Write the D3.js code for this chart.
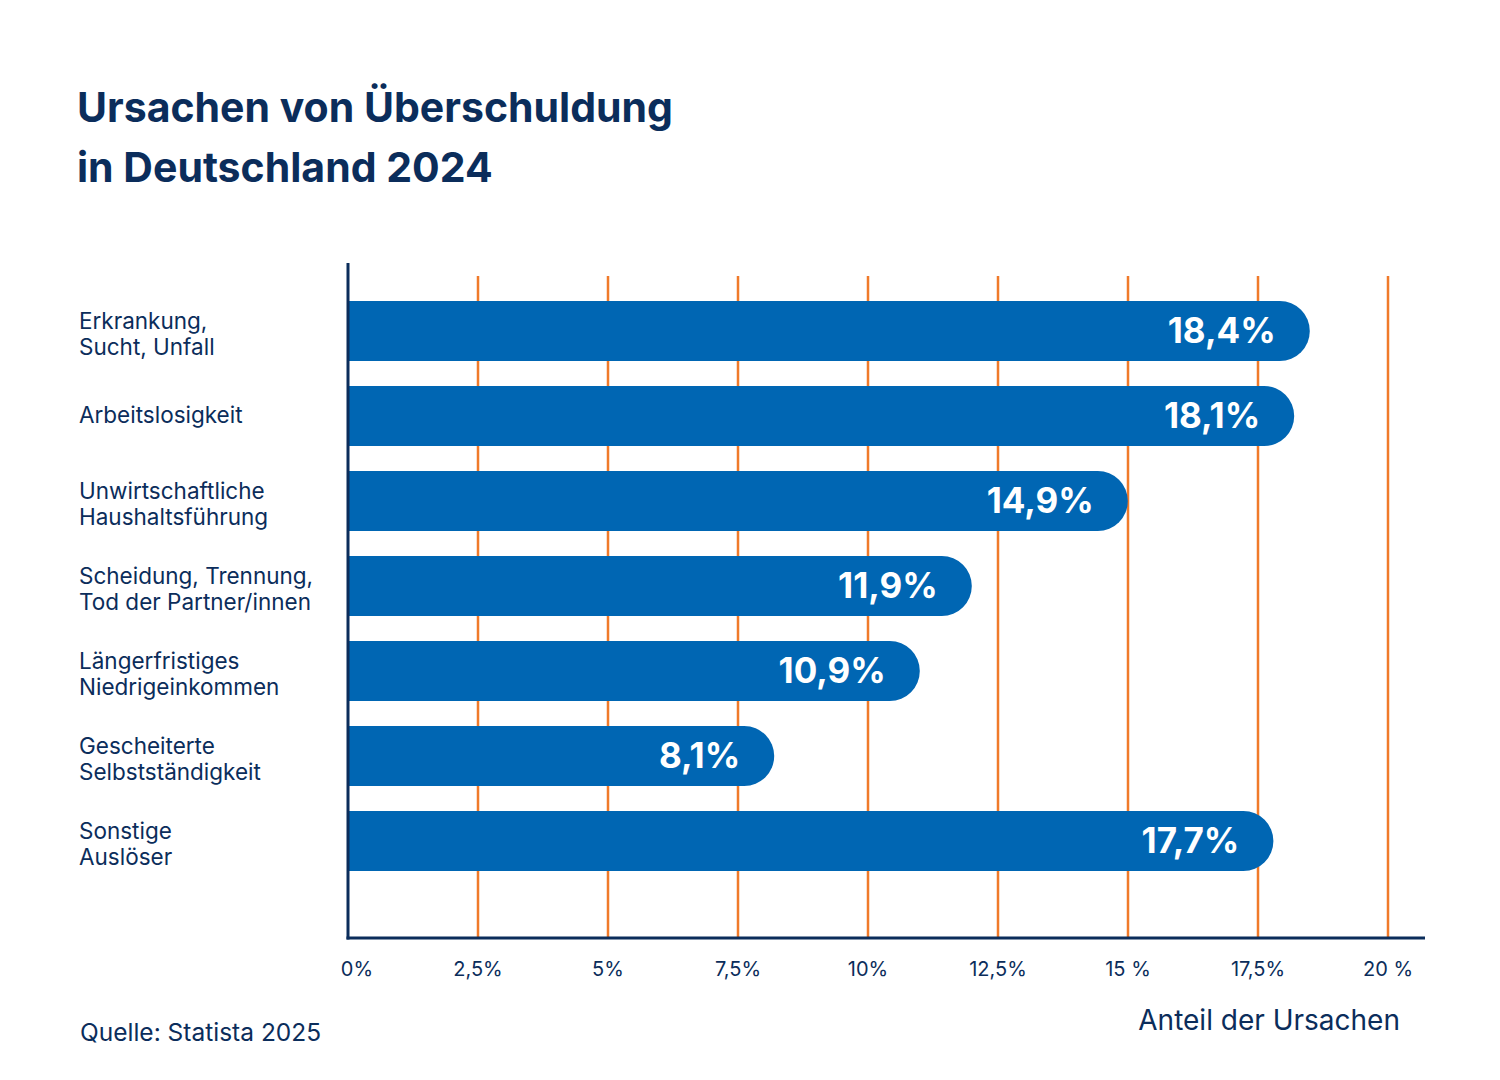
<!DOCTYPE html>
<html>
<head>
<meta charset="utf-8">
<script src="https://cdn.jsdelivr.net/npm/d3@7"></script>
<style>
  body { margin: 0; background: #fff; }
  svg { display: block; font-family: Inter, "Noto Sans", sans-serif; }
</style>
</head>
<body>
<div id="chart"></div>
<script>
// data
var categories = [
    ["Erkrankung,", "Sucht, Unfall"],
    ["Arbeitslosigkeit"],
    ["Unwirtschaftliche", "Haushaltsführung"],
    ["Scheidung, Trennung,", "Tod der Partner/innen"],
    ["Längerfristiges", "Niedrigeinkommen"],
    ["Gescheiterte", "Selbstständigkeit"],
    ["Sonstige", "Auslöser"]
];
var values = [18.4, 18.1, 14.9, 11.9, 10.9, 8.1, 17.7];
var valueLabels = ["18,4%", "18,1%", "14,9%", "11,9%", "10,9%", "8,1%", "17,7%"];
var tickValues = [0, 2.5, 5, 7.5, 10, 12.5, 15, 17.5, 20];
var tickLabels = ["0%", "2,5%", "5%", "7,5%", "10%", "12,5%", "15 %", "17,5%", "20 %"];

var width = 1500;
var height = 1080;
var navy = "#0b2d5b";
var blue = "#0066b3";
var orange = "#f07a2a";

var svg = d3.select("#chart").append("svg")
    .attr("width", width)
    .attr("height", height);

/*****************  Title **********************/
svg.append("text")
    .attr("x", 77).attr("y", 122)
    .attr("font-size", 41).attr("font-weight", 700)
    .attr("fill", navy)
    .text("Ursachen von Überschuldung");
svg.append("text")
    .attr("x", 77).attr("y", 182)
    .attr("font-size", 41).attr("font-weight", 700)
    .attr("fill", navy)
    .text("in Deutschland 2024");

/*****************  Scales **********************/
var x = d3.scaleLinear().domain([0, 20]).range([348, 1388]);
var y = d3.scaleBand()
    .domain(d3.range(categories.length))
    .range([276, 896])
    .padding(25 / 85);

/*****************  Grid lines **********************/
svg.selectAll(".grid")
    .data(tickValues.slice(1))
    .enter()
    .append("line")
    .attr("class", "grid")
    .attr("x1", function (d) { return x(d); })
    .attr("x2", function (d) { return x(d); })
    .attr("y1", 276)
    .attr("y2", 938)
    .attr("stroke", orange)
    .attr("stroke-width", 2.5);

/*****************  Bars **********************/
function barPath(v, i) {
    var x0 = x(0);
    var x1 = x(v) + 5;
    var y0 = y(i);
    var h = y.bandwidth();
    var r = h / 2;
    return "M" + x0 + "," + y0 +
        "H" + (x1 - r) +
        "A" + r + "," + r + " 0 0 1 " + (x1 - r) + "," + (y0 + h) +
        "H" + x0 + "Z";
}

svg.selectAll(".bar")
    .data(values)
    .enter()
    .append("path")
    .attr("class", "bar")
    .attr("d", function (d, i) { return barPath(d, i); })
    .attr("fill", blue);

svg.selectAll(".valueLabel")
    .data(values)
    .enter()
    .append("text")
    .attr("class", "valueLabel")
    .attr("x", function (d) { return x(d) + 5 - 34; })
    .attr("y", function (d, i) { return y(i) + y.bandwidth() / 2 + 12; })
    .attr("text-anchor", "end")
    .attr("font-size", 35)
    .attr("font-weight", 700)
    .attr("fill", "#fff")
    .text(function (d, i) { return valueLabels[i]; });

/*****************  Category labels **********************/
var catText = svg.selectAll(".cat")
    .data(categories)
    .enter()
    .append("text")
    .attr("class", "cat")
    .attr("font-size", 22.5)
    .attr("fill", navy);

catText.each(function (lines, i) {
    var c = y(i) + y.bandwidth() / 2;
    var n = lines.length;
    d3.select(this).selectAll("tspan")
        .data(lines)
        .enter()
        .append("tspan")
        .attr("x", 79)
        .attr("y", function (d, j) {
            return c + 7 + (j - (n - 1) / 2) * 26 + (n > 1 ? 4 : 0);
        })
        .text(function (d) { return d; });
});

/*****************  Axes **********************/
svg.append("line")
    .attr("x1", 348).attr("x2", 348)
    .attr("y1", 263).attr("y2", 939.5)
    .attr("stroke", navy).attr("stroke-width", 3);
svg.append("line")
    .attr("x1", 346.5).attr("x2", 1425)
    .attr("y1", 938).attr("y2", 938)
    .attr("stroke", navy).attr("stroke-width", 3);

svg.selectAll(".tick")
    .data(tickValues)
    .enter()
    .append("text")
    .attr("class", "tick")
    .attr("x", function (d, i) { return x(d) + (i == 0 ? 9 : 0); })
    .attr("y", 976)
    .attr("text-anchor", "middle")
    .attr("font-size", 20)
    .attr("fill", navy)
    .text(function (d, i) { return tickLabels[i]; });

svg.append("text")
    .attr("x", 1400).attr("y", 1030)
    .attr("text-anchor", "end")
    .attr("font-size", 28)
    .attr("fill", navy)
    .text("Anteil der Ursachen");

svg.append("text")
    .attr("x", 80).attr("y", 1041)
    .attr("font-size", 24.5)
    .attr("fill", navy)
    .text("Quelle: Statista 2025");
</script>
</body>
</html>
